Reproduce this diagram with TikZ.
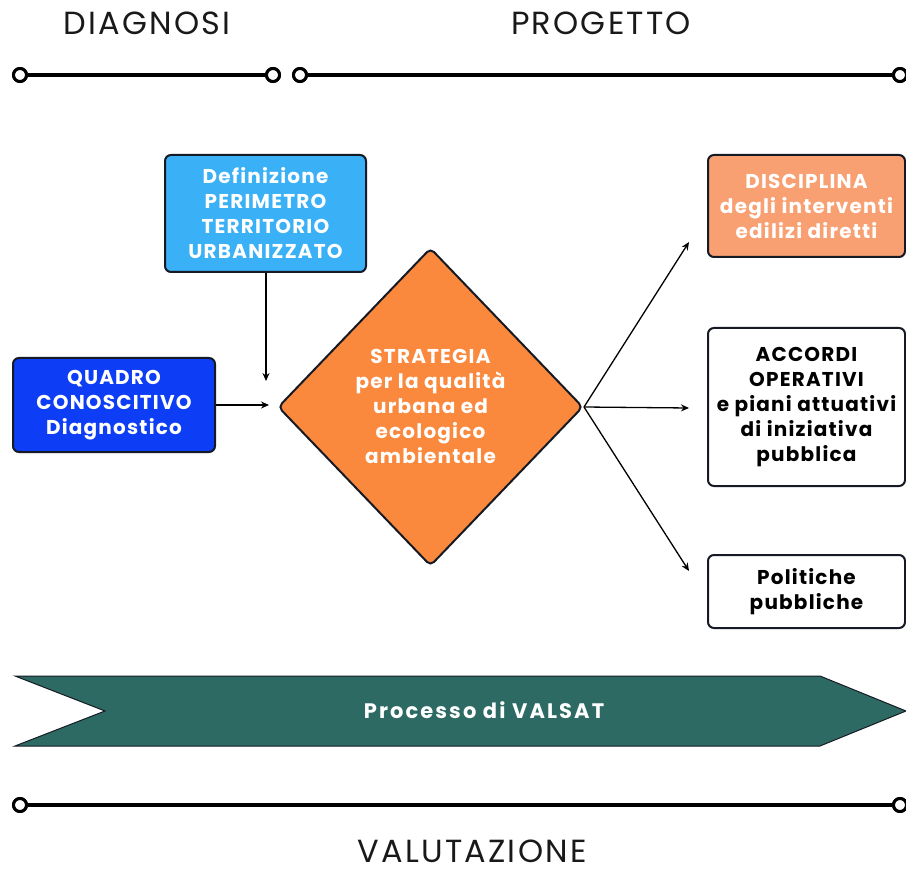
\documentclass[tikz,border=0pt]{standalone}
\usepackage{fontspec}
\setmainfont{Poppins}
\newfontfamily\popb{Poppins}[LetterSpace=6]
\newfontfamily\ribf{Poppins}[LetterSpace=10]
\newfontfamily\headf{Poppins}[LetterSpace=7]
\usetikzlibrary{shapes.geometric,arrows.meta}
\definecolor{lblue}{RGB}{58,176,246}
\definecolor{dblue}{RGB}{13,62,245}
\definecolor{orng}{RGB}{250,137,62}
\definecolor{salm}{RGB}{248,160,114}
\definecolor{teal}{RGB}{46,106,100}
\definecolor{edge}{RGB}{22,26,36}
\tikzset{
  box/.style={draw=edge, line width=2pt, rounded corners=6pt, align=center, inner sep=0pt,
    font=\popb\bfseries\fontsize{20}{25}\selectfont},
  wtext/.style={text=white},
  conn/.style={line width=1.3pt, -{Stealth[length=8pt,width=7pt]}},
  tl/.style={line width=4pt},
  dot/.style={circle, draw=black, line width=3pt, fill=white, minimum size=13pt, inner sep=0pt},
  head/.style={font=\headf\fontsize{32}{34}\selectfont, text=black!90, anchor=base, inner sep=0pt}
}
\begin{document}
\begin{tikzpicture}[x=1pt,y=-1pt]
\useasboundingbox (0,0) rectangle (906,869);
% headings
\node[head] (hd) at (147,35) {DIAGNOSI};
\node[head] (hp) at (601,35) {PROGETTO};
\node[head] (hv) at (472,862) {VALUTAZIONE};
% timelines
\node[dot] (t1) at (20,75) {};
\node[dot] (t2) at (273,75) {};
\node[dot] (t3) at (300,75) {};
\node[dot] (t4) at (900,75) {};
\draw[tl] (t1) -- (t2);
\draw[tl] (t3) -- (t4);
\node[dot] (b1) at (20,805) {};
\node[dot] (b2) at (900,805) {};
\draw[tl] (b1) -- (b2);
\node[dot] at (20,75) {};\node[dot] at (273,75) {};\node[dot] at (300,75) {};\node[dot] at (900,75) {};
\node[dot] at (20,805) {};\node[dot] at (900,805) {};
% boxes
\node[box, fill=lblue, wtext, minimum width=201pt, minimum height=117pt] (perim) at (265.5,213.5)
  {Definizione\\PERIMETRO\\TERRITORIO\\URBANIZZATO};
\node[box, fill=dblue, wtext, minimum width=202pt, minimum height=94pt] (quadro) at (114,405)
  {QUADRO\\CONOSCITIVO\\Diagnostico};
\node[diamond, draw=edge, line width=2pt, fill=orng, rounded corners=5pt, minimum width=305pt,
  minimum height=318pt, inner sep=0pt] (strat) at (430.5,407) {};
\node[align=center, wtext, font=\popb\bfseries\fontsize{20}{25}\selectfont] (strtxt) at (430.5,406)
  {STRATEGIA\\per la qualità\\urbana ed\\ecologico\\ambientale};
\node[box, fill=salm, wtext, minimum width=197pt, minimum height=102pt] (disc) at (806.5,206)
  {DISCIPLINA\\degli interventi\\edilizi diretti};
\node[box, fill=white, text=black, minimum width=197pt, minimum height=158pt] (acc) at (806.5,407)
  {ACCORDI\\OPERATIVI\\e piani attuativi\\di iniziativa\\pubblica};
\node[box, fill=white, text=black, minimum width=197pt, minimum height=73pt] (pol) at (806.5,591.5)
  {Politiche\\pubbliche};
% connectors
\coordinate (e1) at (266,381);
\coordinate (e2) at (269,405);
\coordinate (r1) at (689,242);
\coordinate (r2) at (689,408);
\coordinate (r3) at (689,571);
\draw[conn] (perim.south -| e1) -- (e1);
\draw[conn] (quadro.east) -- (e2);
\draw[conn] (strat.east) -- (r1);
\draw[conn] (strat.east) -- (r2);
\draw[conn] (strat.east) -- (r3);
% ribbon
\draw[fill=teal, draw=edge, line width=1pt]
  (15,676) -- (820,676) -- (906,711) -- (820,746) -- (15,746) -- (105,711) -- cycle;
\node[text=white, font=\ribf\bfseries\fontsize{21}{24}\selectfont, anchor=base] (valsat) at (484,718) {Processo di VALSAT};
\end{tikzpicture}
\end{document}
